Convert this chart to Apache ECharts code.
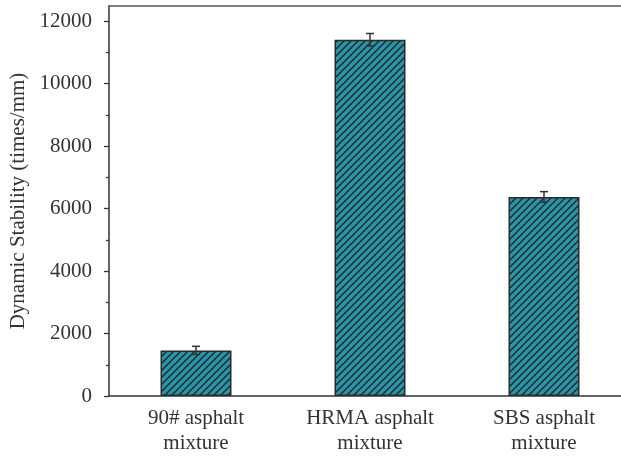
<!DOCTYPE html>
<html>
<head>
<meta charset="utf-8">
<script src="https://cdn.jsdelivr.net/npm/echarts@6/dist/echarts.min.js"></script>
<style>
html,body{margin:0;padding:0;background:#fff;}
#chart{width:621px;height:457px;}
</style>
</head>
<body>
<div id="chart"></div>
<script>
var categories = ['90# asphalt\nmixture', 'HRMA asphalt\nmixture', 'SBS asphalt\nmixture'];
var values = [1460, 11400, 6370];
var errors = [130, 200, 170];
var yTicks = [0, 2000, 4000, 6000, 8000, 10000, 12000];
var yMinorTicks = [1000, 3000, 5000, 7000, 9000, 11000];
var yMax = 12480;

function makePattern() {
  var s = 7;
  var c = document.createElement('canvas');
  c.width = s; c.height = s;
  var ctx = c.getContext('2d');
  ctx.fillStyle = '#2995A9';
  ctx.fillRect(0, 0, s, s);
  ctx.strokeStyle = '#222a2e';
  ctx.lineWidth = 1.5;
  ctx.beginPath();
  ctx.moveTo(-2, 2); ctx.lineTo(2, -2);
  ctx.moveTo(-1, s + 1); ctx.lineTo(s + 1, -1);
  ctx.moveTo(s - 2, s + 2); ctx.lineTo(s + 2, s - 2);
  ctx.stroke();
  return c;
}

var font = 'Liberation Serif';
var axisCol = '#333';
var chart = echarts.init(document.getElementById('chart'));
var errData = values.map(function (v, i) { return [i, v - errors[i], v + errors[i]]; });

chart.setOption({
  animation: false,
  grid: { left: 109, right: -10, top: 6, bottom: 61, containLabel: false, outerBoundsMode: 'none' },
  xAxis: [
    {
      type: 'category', data: categories, position: 'bottom',
      axisLine: { lineStyle: { color: axisCol, width: 1.5 } },
      axisTick: { alignWithLabel: true, inside: false, length: 5, lineStyle: { color: axisCol, width: 1.3 } },
      axisLabel: { fontFamily: font, fontSize: 21, color: '#333', lineHeight: 25, margin: 10 }
    },
    {
      type: 'category', data: categories, position: 'bottom',
      axisLine: { show: false },
      axisTick: { inside: true, length: 4, lineStyle: { color: axisCol, width: 1.3 } },
      axisLabel: { show: false }
    },
    {
      type: 'category', data: categories, position: 'top',
      axisLine: { lineStyle: { color: '#555', width: 1.5 } },
      axisTick: { show: false }, axisLabel: { show: false }
    }
  ],
  yAxis: [
    {
      type: 'value', min: 0, max: yMax,
      name: 'Dynamic Stability (times/mm)', nameLocation: 'middle', nameGap: 75,
      nameTextStyle: { fontFamily: font, fontSize: 21, color: '#333' },
      axisLine: { show: true, lineStyle: { color: axisCol, width: 1.5 } },
      axisTick: { show: true, inside: false, length: 5, customValues: yTicks, lineStyle: { color: axisCol, width: 1.3 } },
      axisLabel: { fontFamily: font, fontSize: 21, color: '#333', margin: 17, customValues: yTicks, formatter: function (v) { return String(v); } },
      splitLine: { show: false }
    },
    {
      type: 'value', min: 0, max: yMax, position: 'left',
      axisLine: { show: false },
      axisTick: { show: true, inside: false, length: 3, customValues: yMinorTicks, lineStyle: { color: axisCol, width: 1.3 } },
      axisLabel: { show: false },
      splitLine: { show: false }
    }
  ],
  series: [
    {
      type: 'bar', data: values, barWidth: 71, xAxisIndex: 0, yAxisIndex: 0,
      itemStyle: { color: { image: makePattern(), repeat: 'repeat' }, borderColor: '#2b2b2b', borderWidth: 1.5 }
    },
    {
      type: 'custom', data: errData, xAxisIndex: 0, yAxisIndex: 0, z: 10,
      renderItem: function (params, api) {
        var x = api.value(0);
        var lo = api.coord([x, api.value(1)]);
        var hi = api.coord([x, api.value(2)]);
        var hw = 4;
        var st = { stroke: '#333', lineWidth: 1.5 };
        return {
          type: 'group',
          children: [
            { type: 'line', shape: { x1: lo[0], y1: lo[1], x2: hi[0], y2: hi[1] }, style: st },
            { type: 'line', shape: { x1: lo[0] - hw, y1: lo[1], x2: lo[0] + hw, y2: lo[1] }, style: st },
            { type: 'line', shape: { x1: hi[0] - hw, y1: hi[1], x2: hi[0] + hw, y2: hi[1] }, style: st }
          ]
        };
      }
    }
  ]
});
</script>
</body>
</html>
